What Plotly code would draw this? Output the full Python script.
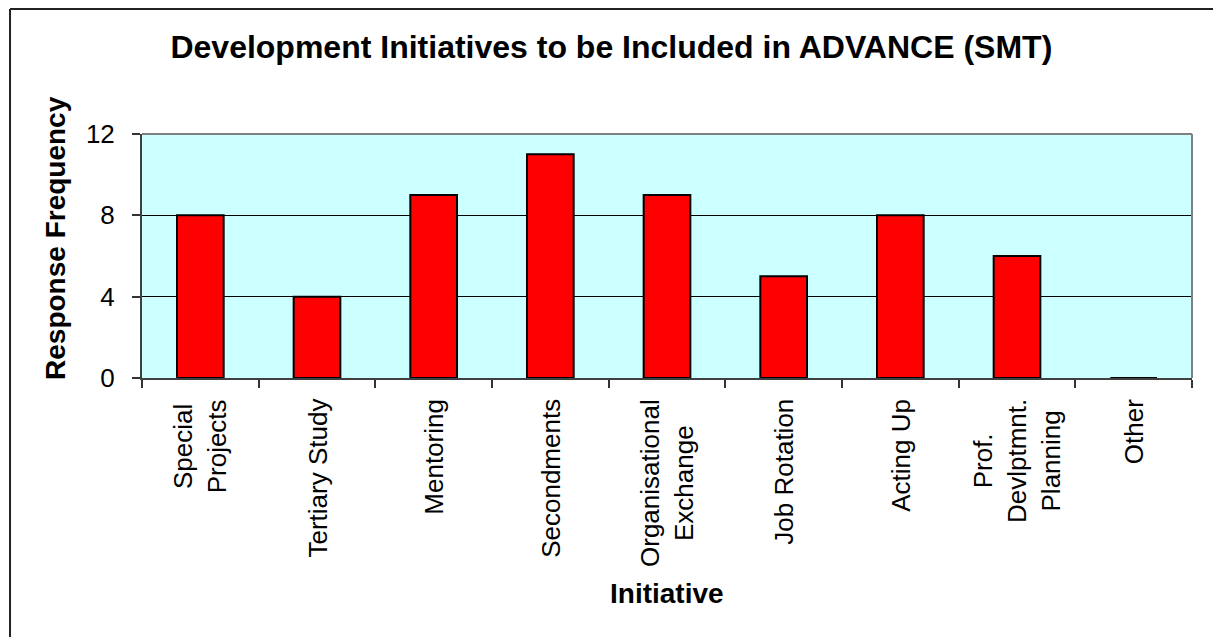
import plotly.graph_objects as go

# Survey responses: development initiatives to include in ADVANCE (SMT)
initiatives = [
    "Special<br>Projects",
    "Tertiary Study",
    "Mentoring",
    "Secondments",
    "Organisational<br>Exchange",
    "Job Rotation",
    "Acting Up",
    "Prof.<br>Devlptmnt.<br>Planning",
    "Other",
]
responses = [8, 4, 9, 11, 9, 5, 8, 6, 0]
y_ticks = [0, 4, 8, 12]

FONT = "Liberation Sans, Arial, sans-serif"

fig = go.Figure(
    go.Bar(
        x=initiatives,
        y=responses,
        marker=dict(color="#FF0000", line=dict(color="#000000", width=2)),
        hoverinfo="x+y",
    )
)

# Category labels, rotated and centred line-by-line beneath each bar
for name in initiatives:
    fig.add_annotation(
        x=name, y=0, xref="x", yref="y",
        text=name, textangle=-90, showarrow=False,
        xanchor="center", yanchor="top", align="center",
        yshift=-19,
        font=dict(family=FONT, size=26, color="#000000"),
    )

# Axis titles
fig.add_annotation(
    x=-0.0819, y=0.574, xref="paper", yref="paper",
    text="<b>Response Frequency</b>", textangle=-90, showarrow=False,
    xanchor="center", yanchor="middle",
    font=dict(family=FONT, size=28, color="#000000"),
)
fig.add_annotation(
    x=0.5, y=-0.885, xref="paper", yref="paper",
    text="<b>Initiative</b>", showarrow=False,
    xanchor="center", yanchor="middle",
    font=dict(family=FONT, size=28, color="#000000"),
)

# Light grey top and right edges of the plotting area
fig.add_shape(type="line", xref="paper", yref="paper",
              x0=0, x1=1, y0=1, y1=1,
              line=dict(color="#808080", width=2))
fig.add_shape(type="line", xref="paper", yref="paper",
              x0=1, x1=1, y0=0, y1=1,
              line=dict(color="#808080", width=2))

# Outer chart frame (left and top edges)
fig.add_shape(type="line", xref="paper", yref="paper",
              x0=-0.1257, x1=1.2, y0=1.5123, y1=1.5123,
              line=dict(color="#222222", width=2))
fig.add_shape(type="line", xref="paper", yref="paper",
              x0=-0.1257, x1=-0.1257, y0=1.5123, y1=-1.2,
              line=dict(color="#222222", width=2))

fig.update_layout(
    width=1213,
    height=637,
    margin=dict(l=142, r=21, t=134, b=259),
    paper_bgcolor="#FFFFFF",
    plot_bgcolor="#CCFFFF",
    bargap=0.6,
    showlegend=False,
    font=dict(family=FONT, color="#000000"),
    title=dict(
        text="<b>Development Initiatives to be Included in ADVANCE (SMT)</b>",
        x=0.504, xref="container", xanchor="center",
        y=0.926, yref="container", yanchor="middle",
        font=dict(family=FONT, size=32, color="#000000"),
    ),
    xaxis=dict(
        type="category",
        showticklabels=False,
        ticks="outside", ticklen=8, tickcolor="#333333", tickwidth=1.5,
        tickson="boundaries",
        showgrid=False,
        showline=True, linecolor="#404040", linewidth=2,
        zeroline=False,
    ),
    yaxis=dict(
        range=[0, 12],
        tickvals=y_ticks,
        ticktext=[str(v) for v in y_ticks],
        ticks="outside", ticklen=8, tickcolor="#333333", tickwidth=1.5,
        ticklabelstandoff=12,
        tickfont=dict(family=FONT, size=26, color="#000000"),
        showgrid=True, gridcolor="#000000", gridwidth=1,
        showline=True, linecolor="#404040", linewidth=2,
        zeroline=False,
    ),
)

fig.write_html("out.html")
